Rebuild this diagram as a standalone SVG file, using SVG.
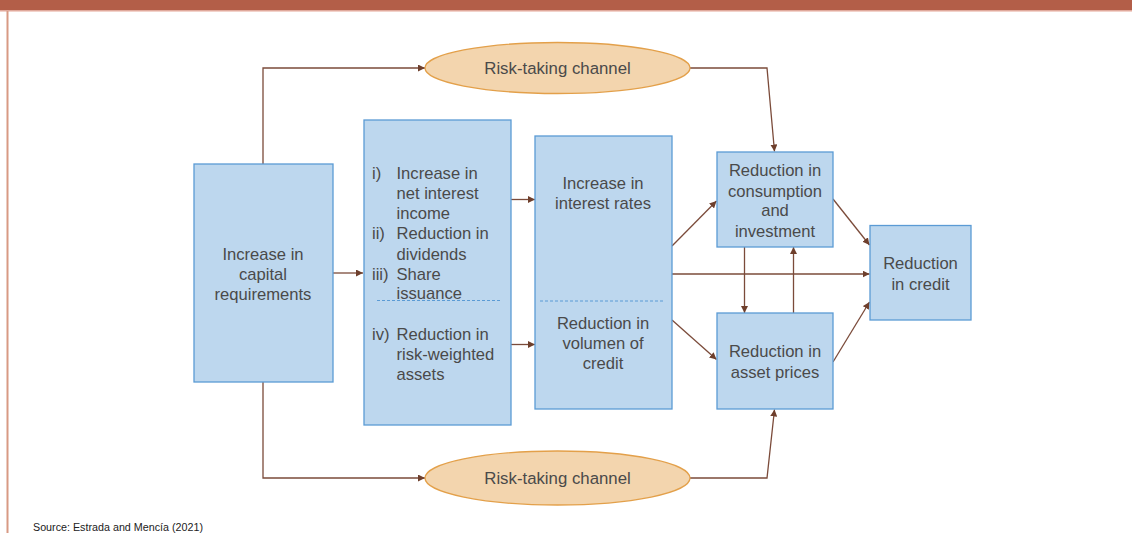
<svg xmlns="http://www.w3.org/2000/svg" width="1132" height="533" viewBox="0 0 1132 533">
<defs>
<marker id="ah" viewBox="0 0 8 8" refX="8" refY="4" markerWidth="7" markerHeight="7" markerUnits="userSpaceOnUse" orient="auto">
<path d="M0,0 L8,4 L0,8 z" fill="#6e3f2c"/>
</marker>
<style>
.box{fill:#bdd7ee;stroke:#5b9bd5;stroke-width:1.3}
.ell{fill:#f3d5ae;stroke:#e3a04a;stroke-width:1.3}
.t{font-family:"Liberation Sans",Arial,sans-serif;font-size:16.6px;fill:#4a4a4a}
.c{text-anchor:middle}
.et{font-family:"Liberation Sans",Arial,sans-serif;font-size:16.8px;fill:#4a4a4a;text-anchor:middle}
.cn{fill:none;stroke:#7b4b3a;stroke-width:1.3;marker-end:url(#ah)}
.dash{stroke:#5b9bd5;stroke-width:1;stroke-dasharray:3,2}
</style>
</defs>
<rect x="0" y="0" width="1132" height="10.5" fill="#b35e48"/>
<line x1="0" y1="11" x2="1132" y2="11" stroke="#e6a595" stroke-width="1"/>
<line x1="7.5" y1="11" x2="7.5" y2="533" stroke="#d89a84" stroke-width="2"/>

<g id="connectors">
<polyline class="cn" points="263,164 263,68 425,68"/>
<polyline class="cn" points="690,68 767,68 774.5,151.5"/>
<polyline class="cn" points="263,382 263,478 425,478"/>
<polyline class="cn" points="690,478 767,478 774.5,409.5"/>
<line class="cn" x1="333" y1="273" x2="363" y2="273"/>
<line class="cn" x1="511" y1="199.5" x2="535" y2="199.5"/>
<line class="cn" x1="511" y1="344.5" x2="535" y2="344.5"/>
<line class="cn" x1="672" y1="246" x2="716.5" y2="201"/>
<line class="cn" x1="672" y1="274" x2="869.5" y2="274"/>
<line class="cn" x1="672" y1="320" x2="716.5" y2="359.5"/>
<line class="cn" x1="744.5" y1="247" x2="744.5" y2="313"/>
<line class="cn" x1="793.5" y1="313" x2="793.5" y2="247"/>
<line class="cn" x1="833" y1="199" x2="869.5" y2="245"/>
<line class="cn" x1="833" y1="362" x2="869.5" y2="302"/>
</g>

<g id="risk-top">
<ellipse class="ell" cx="557.5" cy="68" rx="132.5" ry="25.5"/>
<text class="et" x="557.5" y="74">Risk-taking channel</text>
</g>
<g id="risk-bottom">
<ellipse class="ell" cx="557.5" cy="478" rx="132.5" ry="27"/>
<text class="et" x="557.5" y="484">Risk-taking channel</text>
</g>

<g id="capital">
<rect class="box" x="194" y="164" width="139" height="218"/>
<text class="t c" x="263" y="260">Increase in</text>
<text class="t c" x="263" y="280">capital</text>
<text class="t c" x="263" y="300">requirements</text>
</g>

<g id="bank-responses">
<rect class="box" x="364" y="120" width="147" height="305"/>
<text class="t" x="372" y="179">i)</text>
<text class="t" x="396.5" y="179">Increase in</text>
<text class="t" x="396.5" y="199">net interest</text>
<text class="t" x="396.5" y="218.5">income</text>
<text class="t" x="372" y="239">ii)</text>
<text class="t" x="396.5" y="239">Reduction in</text>
<text class="t" x="396.5" y="259.5">dividends</text>
<text class="t" x="372" y="280">iii)</text>
<text class="t" x="396.5" y="280">Share</text>
<text class="t" x="396.5" y="299">issuance</text>
<line class="dash" x1="377" y1="300.5" x2="500" y2="300.5"/>
<text class="t" x="372" y="340">iv)</text>
<text class="t" x="396.5" y="340">Reduction in</text>
<text class="t" x="396.5" y="360">risk-weighted</text>
<text class="t" x="396.5" y="380">assets</text>
</g>

<g id="rates-credit">
<rect class="box" x="535" y="136" width="137" height="273"/>
<text class="t c" x="603" y="189">Increase in</text>
<text class="t c" x="603" y="209">interest rates</text>
<line class="dash" x1="540" y1="301" x2="663" y2="301"/>
<text class="t c" x="603" y="329">Reduction in</text>
<text class="t c" x="603" y="349">volumen of</text>
<text class="t c" x="603" y="368.5">credit</text>
</g>

<g id="consumption">
<rect class="box" x="717" y="152" width="116" height="95"/>
<text class="t c" x="775" y="176">Reduction in</text>
<text class="t c" x="775" y="197">consumption</text>
<text class="t c" x="775" y="216">and</text>
<text class="t c" x="775" y="236.5">investment</text>
</g>

<g id="asset-prices">
<rect class="box" x="717" y="313" width="116" height="96"/>
<text class="t c" x="775" y="357">Reduction in</text>
<text class="t c" x="775" y="377.5">asset prices</text>
</g>

<g id="credit">
<rect class="box" x="870" y="225.5" width="101" height="94.5"/>
<text class="t c" x="920.5" y="269">Reduction</text>
<text class="t c" x="920.5" y="290">in credit</text>
</g>

<text x="33" y="531" font-family="'Liberation Sans',Arial,sans-serif" font-size="10" fill="#222" textLength="170" lengthAdjust="spacingAndGlyphs">Source: Estrada and Mencía (2021)</text>
</svg>
